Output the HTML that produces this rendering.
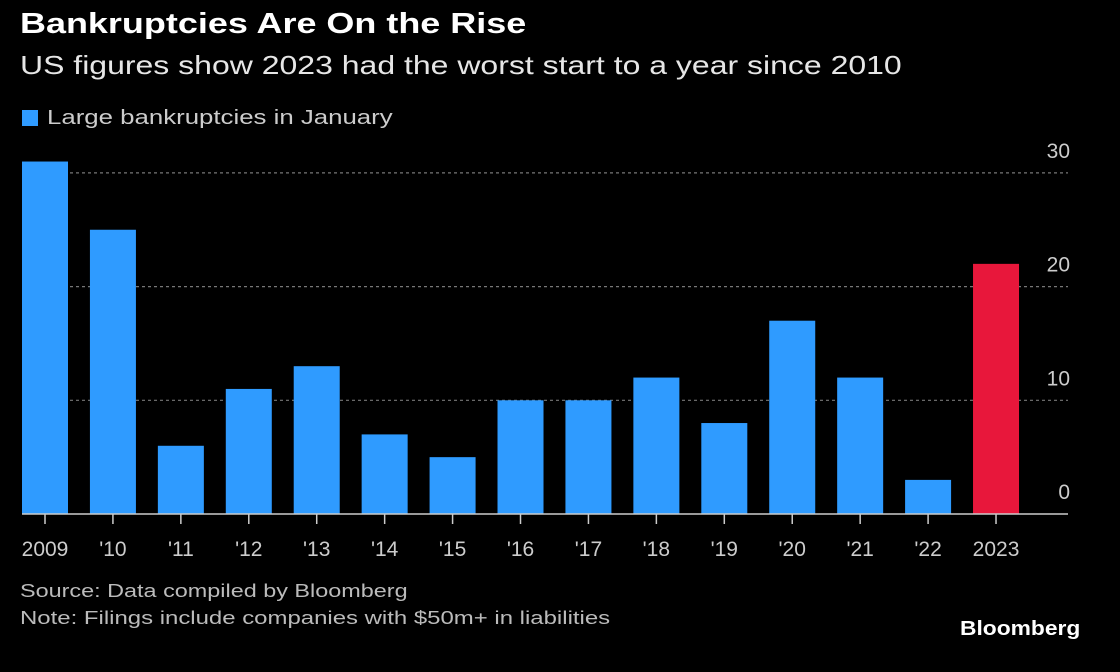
<!DOCTYPE html>
<html><head><meta charset="utf-8">
<style>
html,body{margin:0;padding:0;background:#000;}
body{width:1120px;height:672px;position:relative;overflow:hidden;font-family:"Liberation Sans","DejaVu Sans",sans-serif;color:#ddd;}
.t{position:absolute;white-space:nowrap;transform-origin:0 0;}
</style></head>
<body>
<div class="t" style="left:20px;top:8px;font-size:29px;font-weight:bold;color:#fff;transform:scaleX(1.24);">Bankruptcies Are On the Rise</div>
<div class="t" style="left:20px;top:50px;font-size:26px;color:#e6e6e6;transform:scaleX(1.23);">US figures show 2023 had the worst start to a year since 2010</div>
<div class="t" style="left:22px;top:107px;font-size:20px;color:#ccc;"><span style="display:inline-block;width:16px;height:16px;background:#2f9bff;margin-right:9px;vertical-align:-2px;"></span><span style="display:inline-block;transform:scaleX(1.29);transform-origin:0 0;">Large bankruptcies in January</span></div>
<svg id="chart" width="1120" height="672" style="position:absolute;left:0;top:0;"></svg>
<div class="t" style="left:20px;top:581px;font-size:18px;color:#bbb;transform:scaleX(1.3);">Source: Data compiled by Bloomberg</div>
<div class="t" style="left:20px;top:608px;font-size:18px;color:#bbb;transform:scaleX(1.33);">Note: Filings include companies with $50m+ in liabilities</div>
<div class="t" style="left:960px;top:618px;font-size:20px;font-weight:bold;color:#fff;transform:scaleX(1.14);">Bloomberg</div>
<script>
const categories = ["2009","'10","'11","'12","'13","'14","'15","'16","'17","'18","'19","'20","'21","'22","2023"];
const values = [31,25,6,11,13,7,5,10,10,12,8,17,12,3,22];
const yTicks = [0,10,20,30];
const svg = document.getElementById('chart');
const NS = 'http://www.w3.org/2000/svg';
const baseY = 514, pxPer = 11.37;
const x0 = 45, step = 67.93, bw = 46;
function y(v){return baseY - v*pxPer;}
function x(i){return x0 + i*step;}
function mk(tag, attrs){const e=document.createElementNS(NS,tag);for(const k in attrs)e.setAttribute(k,attrs[k]);svg.appendChild(e);return e;}
yTicks.forEach(v=>{
  if(v>0){
    const g=mk('line',{x1:22,x2:1068,y1:y(v),y2:y(v),stroke:'#777','stroke-width':1.2,'stroke-dasharray':'3,3'});
    
    
  }
  const t=mk('text',{x:1070,y:y(v)-15,'text-anchor':'end','font-size':21,fill:'#ccc','font-family':'Liberation Sans, sans-serif'});
  t.textContent=v;
  
  
});
values.forEach((v,i)=>{
  const r=mk('rect',{x:x(i)-bw/2,y:y(v),width:bw,height:baseY-y(v),fill:i===values.length-1?'#e8173b':'#2f9bff'});
  
  
  const tk=mk('line',{x1:x(i),x2:x(i),y1:baseY,y2:baseY+10,stroke:'#ccc','stroke-width':1.5});
  
  
  const t=mk('text',{x:x(i),y:556,'text-anchor':'middle','font-size':21,fill:'#ccc','font-family':'Liberation Sans, sans-serif'});
  t.textContent=categories[i];
  
  
});
const ax=mk('line',{x1:22,x2:1068,y1:baseY,y2:baseY,stroke:'#ccc','stroke-width':1.5});


</script>
</body></html>
